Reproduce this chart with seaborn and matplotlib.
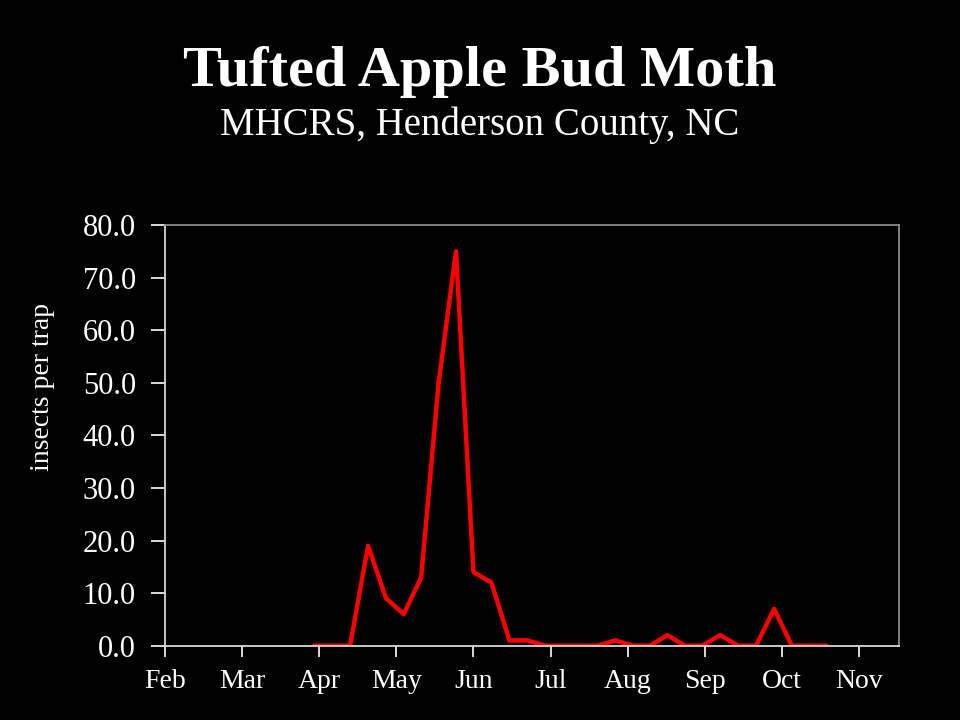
"""Tufted Apple Bud Moth trap counts, MHCRS"""
import matplotlib
matplotlib.use("Agg")
import matplotlib.pyplot as plt
import seaborn as sns
import pandas as pd

# weekly trap dates and counts (insects per trap)
dates = ["2009-03-30", "2009-04-06", "2009-04-13", "2009-04-20", "2009-04-27",
         "2009-05-04", "2009-05-11", "2009-05-18", "2009-05-25", "2009-06-01",
         "2009-06-08", "2009-06-15", "2009-06-22", "2009-06-29", "2009-07-06",
         "2009-07-13", "2009-07-20", "2009-07-27", "2009-08-03", "2009-08-10",
         "2009-08-17", "2009-08-24", "2009-08-31", "2009-09-07", "2009-09-14",
         "2009-09-21", "2009-09-28", "2009-10-05", "2009-10-12", "2009-10-19"]
counts = [0, 0, 0, 19, 9, 6, 13, 50, 75, 14,
          12, 1, 1, 0, 0, 0, 0, 1, 0, 0,
          2, 0, 0, 2, 0, 0, 7, 0, 0, 0]
months = ["Feb", "Mar", "Apr", "May", "Jun", "Jul", "Aug", "Sep", "Oct", "Nov"]
yticks = [0, 10, 20, 30, 40, 50, 60, 70, 80]

# month axis: each month gets equal width, Feb 1 = 0
d = pd.to_datetime(pd.Series(dates))
df = pd.DataFrame({
    "pos": (d.dt.month - 2) + (d.dt.day - 1) / d.dt.days_in_month,
    "count": counts,
})

sns.set_theme(style="ticks")
plt.rcParams["font.family"] = ["Liberation Serif", "DejaVu Serif"]

fig = plt.figure(figsize=(9.6, 7.2), dpi=100, facecolor="black")
ax = fig.add_axes([0.1719, 0.1032, 0.7646, 0.5843], facecolor="black")

sns.lineplot(data=df, x="pos", y="count", color="#ff0000", lw=3.2, ax=ax)

ax.set_xlim(0, 9.52)
ax.set_ylim(0, 80)
ax.set_xticks(range(len(months)))
ax.set_xticklabels(months)
ax.set_yticks(yticks)
ax.set_yticklabels([f"{v:.1f}" for v in yticks])
ax.tick_params(colors="white", width=1.2)
ax.tick_params(axis="x", labelsize=20, length=8, pad=9)
ax.tick_params(axis="y", labelsize=22, length=10, pad=11)
ax.set_xlabel("")
ax.set_ylabel("insects per trap", color="white", fontsize=20)
ax.yaxis.set_label_coords(-0.150, 0.615)

for s in ["left", "bottom"]:
    ax.spines[s].set_color("#d8d8d8")
    ax.spines[s].set_linewidth(1.3)
for s in ["top", "right"]:
    ax.spines[s].set_visible(True)
    ax.spines[s].set_color("#8a8a8a")
    ax.spines[s].set_linewidth(1.3)

fig.text(0.5, 0.8806, "Tufted Apple Bud Moth", color="white", fontsize=42,
         fontweight="bold", ha="center", va="baseline")
fig.text(0.5, 0.8125, "MHCRS, Henderson County, NC", color="white", fontsize=28,
         ha="center", va="baseline")

fig.savefig("out.png", dpi=100, facecolor="black")
plt.close()
